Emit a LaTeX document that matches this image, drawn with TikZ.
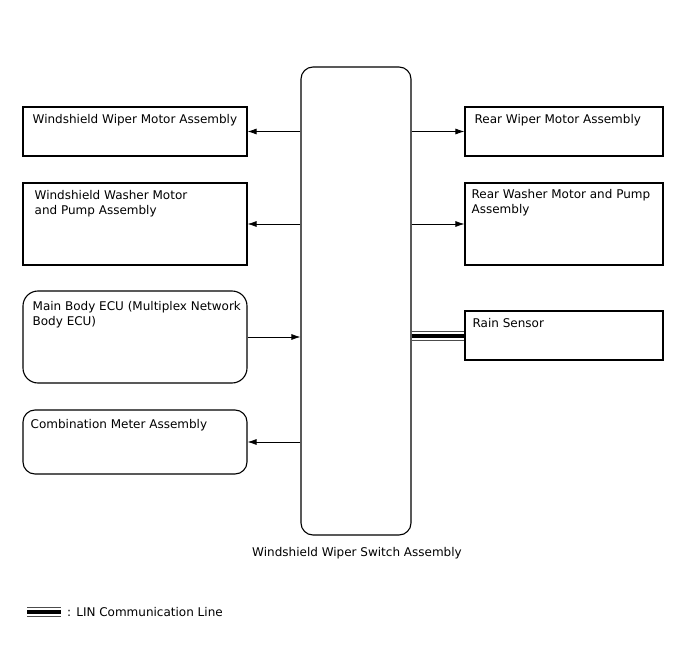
\documentclass[tikz,border=0pt]{standalone}
\usepackage{fontspec}
\setmainfont{DejaVu Sans}
\usetikzlibrary{arrows.meta, positioning}

\begin{document}
\begin{tikzpicture}[x=1pt, y=-1pt,
    box/.style={draw=black, line width=1.1pt, minimum width=224pt, minimum height=49pt, inner sep=0pt},
    rbox/.style={box, rounded corners=12pt},
    txt/.style={anchor=north west, inner sep=0pt, align=left, font=\fontsize{12}{15}\selectfont},
    arrow/.style={-{Latex[length=9pt, width=6pt]}, line width=0.8pt},
    lin/.style={line width=4pt, preaction={draw, gray!60!black, line width=10pt}, preaction={draw, white, line width=8pt}}
  ]
  \useasboundingbox (0,0) rectangle (688,658);

  % central switch
  \node[box, rounded corners=12pt, minimum width=110pt, minimum height=468pt] (sw) at (356,301) {};
  \node[txt, anchor=north] (swlbl) at (357,547) {Windshield Wiper Switch Assembly};

  % left side
  \node[box] (wwm) at (135,131.5) {};
  \node[txt] (wwmlbl) at ([shift={(10,8)}]wwm.north west) {Windshield Wiper Motor Assembly};
  \node[box, minimum height=82pt] (wwp) at (135,224) {};
  \node[txt] (wwplbl) at ([shift={(12,8)}]wwp.north west) {Windshield Washer Motor\\and Pump Assembly};
  \node[rbox, minimum height=92pt, rounded corners=15pt] (ecu) at (135,337) {};
  \node[txt] (eculbl) at ([shift={(10,11)}]ecu.north west) {Main Body ECU (Multiplex Network\\Body ECU)};
  \node[rbox, minimum height=64pt] (meter) at (135,442) {};
  \node[txt] (meterlbl) at ([shift={(8,10)}]meter.north west) {Combination Meter Assembly};

  % right side
  \node[box, minimum width=198pt] (rwm) at (564,131.5) {};
  \node[txt] (rwmlbl) at ([shift={(10,8)}]rwm.north west) {Rear Wiper Motor Assembly};
  \node[box, minimum width=198pt, minimum height=82pt] (rwp) at (564,224) {};
  \node[txt] (rwplbl) at ([shift={(7,7)}]rwp.north west) {Rear Washer Motor and Pump\\Assembly};
  \node[box, minimum width=198pt] (rain) at (564,335.5) {};
  \node[txt] (rainlbl) at ([shift={(8,7.5)}]rain.north west) {Rain Sensor};

  % connections
  \draw[arrow] (sw.west |- wwm.east) -- (wwm.east);
  \draw[arrow] (sw.west |- wwp.east) -- (wwp.east);
  \draw[arrow] (ecu.east) -- (sw.west |- ecu.east);
  \draw[arrow] (sw.west |- meter.east) -- (meter.east);
  \draw[arrow] (sw.east |- rwm.west) -- (rwm.west);
  \draw[arrow] (sw.east |- rwp.west) -- (rwp.west);
  \draw[lin] (sw.east |- rain.west) -- (rain.west);

  % legend
  \coordinate (lgA) at (27,612);
  \coordinate (lgB) at (61,612);
  \draw[lin] (lgA) -- (lgB);
  \node[txt, anchor=west] (lglbl) at (67,612) {: LIN Communication Line};
\end{tikzpicture}
\end{document}
